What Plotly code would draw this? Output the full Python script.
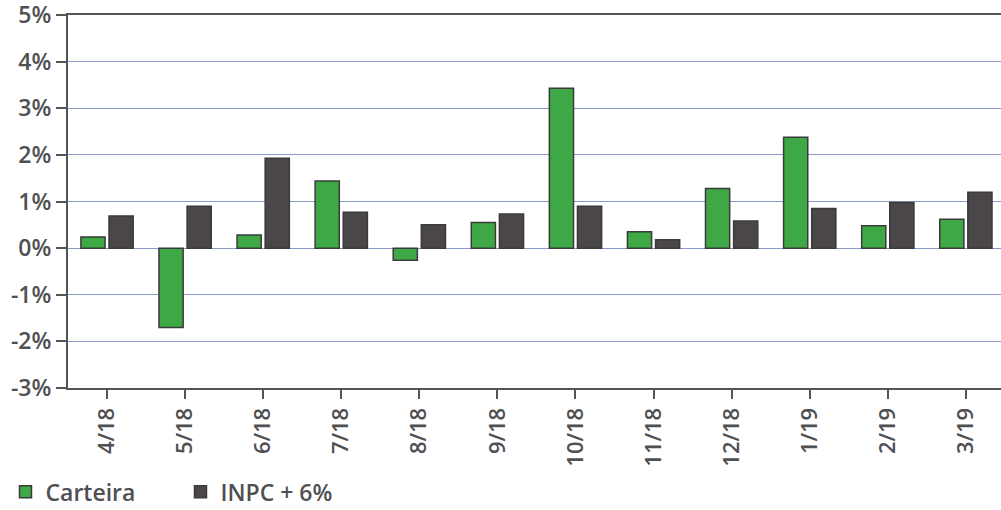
import plotly.graph_objects as go

categories = ["4/18", "5/18", "6/18", "7/18", "8/18", "9/18", "10/18", "11/18", "12/18", "1/19", "2/19", "3/19"]
carteira = [0.24, -1.70, 0.28, 1.44, -0.26, 0.55, 3.43, 0.35, 1.28, 2.38, 0.48, 0.62]
inpc_6 = [0.69, 0.90, 1.93, 0.77, 0.50, 0.73, 0.90, 0.18, 0.58, 0.85, 0.98, 1.20]
y_ticks = [-3, -2, -1, 0, 1, 2, 3, 4, 5]
y_tick_labels = ["-3%", "-2%", "-1%", "0%", "1%", "2%", "3%", "4%", "5%"]

FONT = "Open Sans"
TXT = "#505052"

fig = go.Figure()
fig.add_trace(go.Bar(
    x=categories, y=carteira, name="Carteira",
    marker=dict(color="#3fa846", line=dict(color="#3a3a3a", width=1.5)),
))
fig.add_trace(go.Bar(
    x=categories, y=inpc_6, name="INPC + 6%",
    marker=dict(color="#4a4649", line=dict(color="#3a3a3a", width=1.5)),
))

fig.update_layout(
    width=1001, height=510,
    margin=dict(l=68, r=0, t=15, b=122, autoexpand=False),
    paper_bgcolor="white", plot_bgcolor="white",
    barmode="group", bargap=0.28, bargroupgap=0.14,
    font=dict(family=FONT, size=20, color=TXT, weight=600),
    showlegend=True,
    legend=dict(
        orientation="h", x=-0.067, xanchor="left", y=-0.278, yanchor="middle",
        font=dict(family=FONT, size=23, color=TXT, weight=600),
        entrywidth=130, entrywidthmode="pixels",
        bgcolor="rgba(0,0,0,0)",
    ),
)
fig.update_xaxes(
    type="category", range=[-0.5, 11.45],
    tickangle=-90, ticks="outside", ticklen=9, tickwidth=1.5, tickcolor="#555",
    showline=True, linecolor="#555", linewidth=2, mirror=True,
    showgrid=False,
    tickfont=dict(family=FONT, size=22, color=TXT, weight=600),
)
fig.update_yaxes(
    range=[-3, 5], tickvals=y_ticks, ticktext=y_tick_labels,
    ticks="outside", ticklen=10, tickwidth=1.5, tickcolor="#555",
    showline=True, linecolor="#555", linewidth=2,
    showgrid=True, gridcolor="#8a9acb", gridwidth=1.2,
    zeroline=False, ticklabeloverflow="allow",
    tickfont=dict(family=FONT, size=23, color=TXT, weight=600),
)

fig.write_html(
    "out.html",
    config={"displayModeBar": False},
    post_script="document.body.style.margin='0px';document.body.style.overflow='hidden';",
)
